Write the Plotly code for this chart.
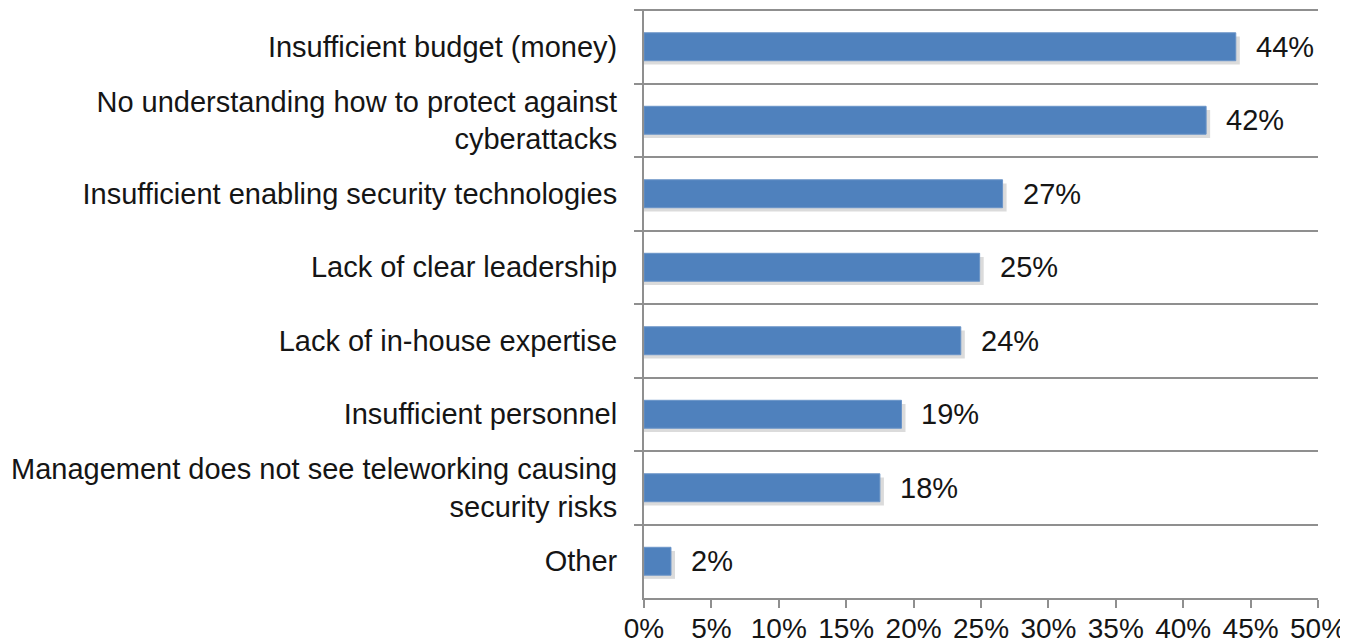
import plotly.graph_objects as go

categories = [
    "Insufficient budget (money)",
    "No understanding how to protect against<br>cyberattacks",
    "Insufficient enabling security technologies",
    "Lack of clear leadership",
    "Lack of in-house expertise",
    "Insufficient personnel",
    "Management does not see teleworking causing<br>security risks",
    "Other",
]
values = [43.9, 41.7, 26.6, 24.9, 23.5, 19.1, 17.5, 2.0]
value_labels = ["44%", "42%", "27%", "25%", "24%", "19%", "18%", "2%"]
x_tick_vals = [0, 5, 10, 15, 20, 25, 30, 35, 40, 45, 50]

FONT = "Liberation Sans, Arial, sans-serif"
GRAY = "#8f8f8f"
TEXT = "#151515"
FS = 29
BAR_W = 0.38
FIG_W, FIG_H = 1340, 636
M_L, M_R, M_T, M_B = 636, 30, 2, 46
PLOT_W = FIG_W - M_L - M_R

fig = go.Figure()

# soft drop shadow behind bars
fig.add_trace(go.Bar(
    y=categories, x=[v + 0.3 for v in values], orientation="h",
    width=BAR_W, offset=-BAR_W / 2 + 0.05,
    marker=dict(color="rgba(0,0,0,0.14)", line=dict(width=0)),
    hoverinfo="skip", showlegend=False,
))
fig.add_trace(go.Bar(
    y=categories, x=values, orientation="h",
    width=BAR_W, offset=-BAR_W / 2,
    marker=dict(color="#4F81BD", line=dict(color="#6a94c8", width=1)),
    showlegend=False,
))

for c, v, t in zip(categories, values, value_labels):
    fig.add_annotation(
        x=v, y=c, text=t, showarrow=False, xanchor="left", yanchor="middle",
        xshift=18, font=dict(family=FONT, size=FS, color=TEXT),
    )

# top boundary gridline (with its outside tick)
fig.add_shape(
    type="line", xref="paper", yref="paper",
    x0=-8 / PLOT_W, x1=1, y0=1, y1=1,
    line=dict(color=GRAY, width=2),
)

fig.update_layout(
    width=FIG_W, height=FIG_H,
    margin=dict(l=M_L, r=M_R, t=M_T, b=M_B, autoexpand=False),
    paper_bgcolor="white", plot_bgcolor="white",
    barmode="overlay",
    font=dict(family=FONT, size=FS, color=TEXT),
    showlegend=False,
)
fig.update_xaxes(
    range=[0, 50], tickmode="array", tickvals=x_tick_vals,
    ticktext=[f"{v}%" for v in x_tick_vals],
    showgrid=False, zeroline=False, automargin=False,
    showline=True, linecolor=GRAY, linewidth=2,
    ticks="outside", ticklen=8, tickwidth=2, tickcolor=GRAY,
    ticklabelstandoff=-4,
    tickfont=dict(family=FONT, size=28, color=TEXT),
)
fig.update_yaxes(
    type="category", categoryorder="array", categoryarray=categories,
    autorange="reversed", tickson="boundaries", automargin=False,
    showgrid=True, gridcolor=GRAY, gridwidth=2,
    showline=True, linecolor=GRAY, linewidth=2,
    ticks="outside", ticklen=8, tickwidth=2, tickcolor=GRAY,
    ticklabelstandoff=19,
    tickfont=dict(family=FONT, size=FS, color=TEXT),
)

fig.write_html("out.html")
